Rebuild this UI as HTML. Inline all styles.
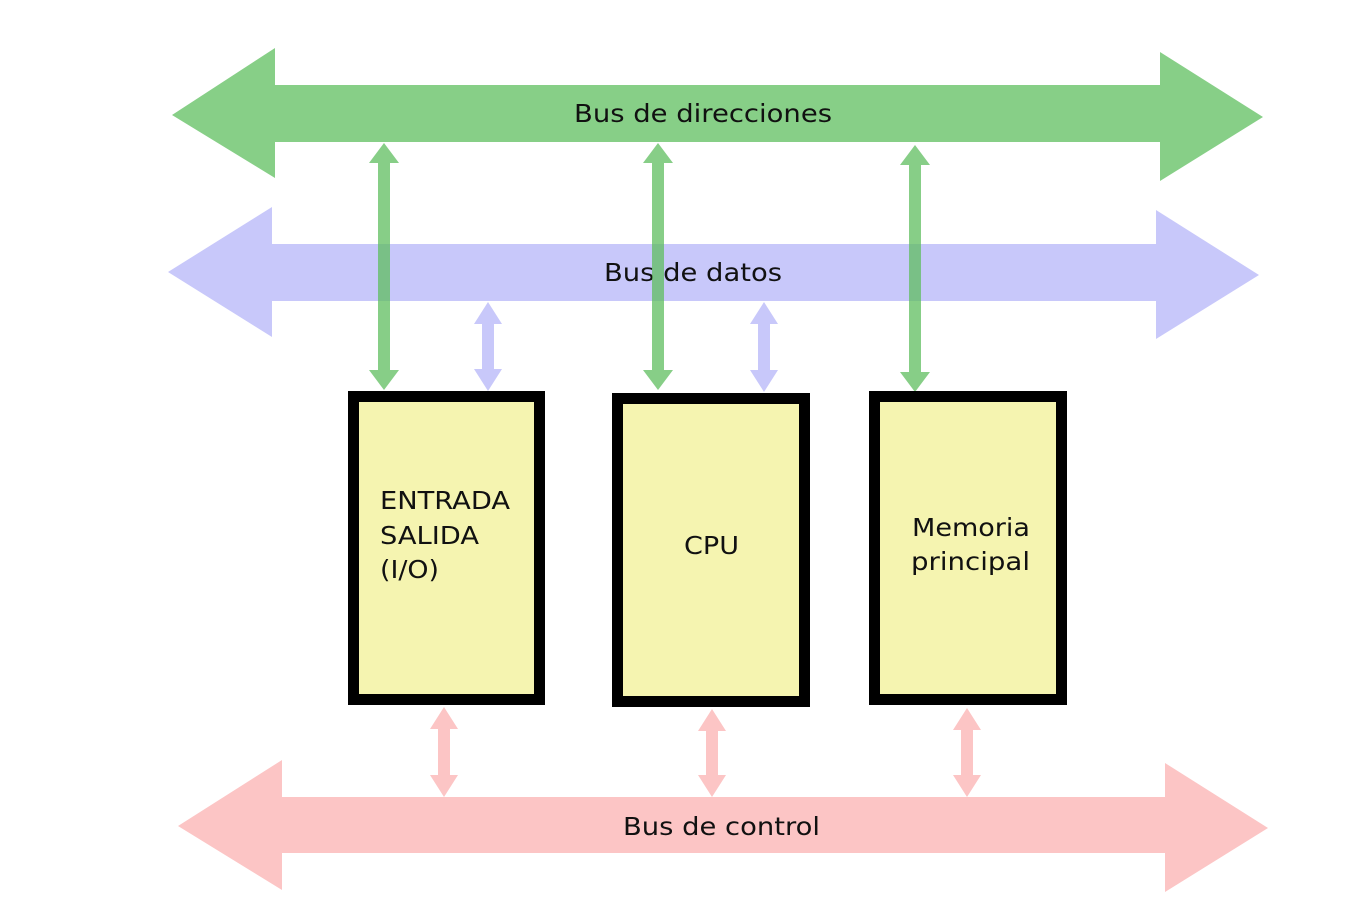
<!DOCTYPE html>
<html><head><meta charset="utf-8"><style>html,body{margin:0;padding:0;background:#fff}svg{display:block}</style></head>
<body>
<svg width="1362" height="906" viewBox="0 0 1362 906" xmlns="http://www.w3.org/2000/svg" font-family="DejaVu Sans, Liberation Sans, sans-serif" font-size="25" fill="#111">
<polygon fill="#87cf87" points="172,115 275,48 275,85 1160,85 1160,52 1263,117 1160,181 1160,142 275,142 275,178"/>
<text x="574" y="122" textLength="258" lengthAdjust="spacingAndGlyphs">Bus de direcciones</text>
<polygon fill="#c8c8fa" points="168,272 272,207 272,244 1156,244 1156,210 1259,275 1156,339 1156,301 272,301 272,337"/>
<text x="604" y="281" textLength="178" lengthAdjust="spacingAndGlyphs">Bus de datos</text>
<polygon fill="#fcc5c5" points="178,826 282,760 282,797 1165,797 1165,763 1268,828 1165,892 1165,853 282,853 282,890"/>
<text x="623" y="835" textLength="197" lengthAdjust="spacingAndGlyphs">Bus de control</text>

<g fill="#c8c8fa">
<polygon points="488,302 502,324 494,324 494,369 502,369 488,391 474,369 482,369 482,324 474,324"/>
<polygon points="764,302 778,324 770,324 770,370 778,370 764,392 750,370 758,370 758,324 750,324"/>
</g>
<g fill="#5fbd5f" opacity="0.75">
<polygon points="384,143 399,163 390,163 390,370 399,370 384,390 369,370 378,370 378,163 369,163"/>
<polygon points="658,143 673,163 664,163 664,370 673,370 658,390 643,370 652,370 652,163 643,163"/>
<polygon points="915,145 930,165 921,165 921,372 930,372 915,392 900,372 909,372 909,165 900,165"/>
</g>
<g fill="#fcc5c5">
<polygon points="444,707 458,729 450,729 450,775 458,775 444,797 430,775 438,775 438,729 430,729"/>
<polygon points="712,709 726,731 718,731 718,775 726,775 712,797 698,775 706,775 706,731 698,731"/>
<polygon points="967,708 981,730 973,730 973,775 981,775 967,797 953,775 961,775 961,730 953,730"/>
</g>

<g fill="#f5f4b0" stroke="#000" stroke-width="11">
<rect x="353.5" y="396.5" width="186" height="303"/>
<rect x="617.5" y="398.5" width="187" height="303"/>
<rect x="874.5" y="396.5" width="187" height="303"/>
</g>
<text x="380" y="509" textLength="130" lengthAdjust="spacingAndGlyphs">ENTRADA</text>
<text x="380" y="544" textLength="99" lengthAdjust="spacingAndGlyphs">SALIDA</text>
<text x="380" y="578" textLength="59" lengthAdjust="spacingAndGlyphs">(I/O)</text>
<text x="684" y="554" textLength="55" lengthAdjust="spacingAndGlyphs">CPU</text>
<text x="912" y="536" textLength="118" lengthAdjust="spacingAndGlyphs">Memoria</text>
<text x="911" y="570" textLength="119" lengthAdjust="spacingAndGlyphs">principal</text>
</svg>
</body></html>
